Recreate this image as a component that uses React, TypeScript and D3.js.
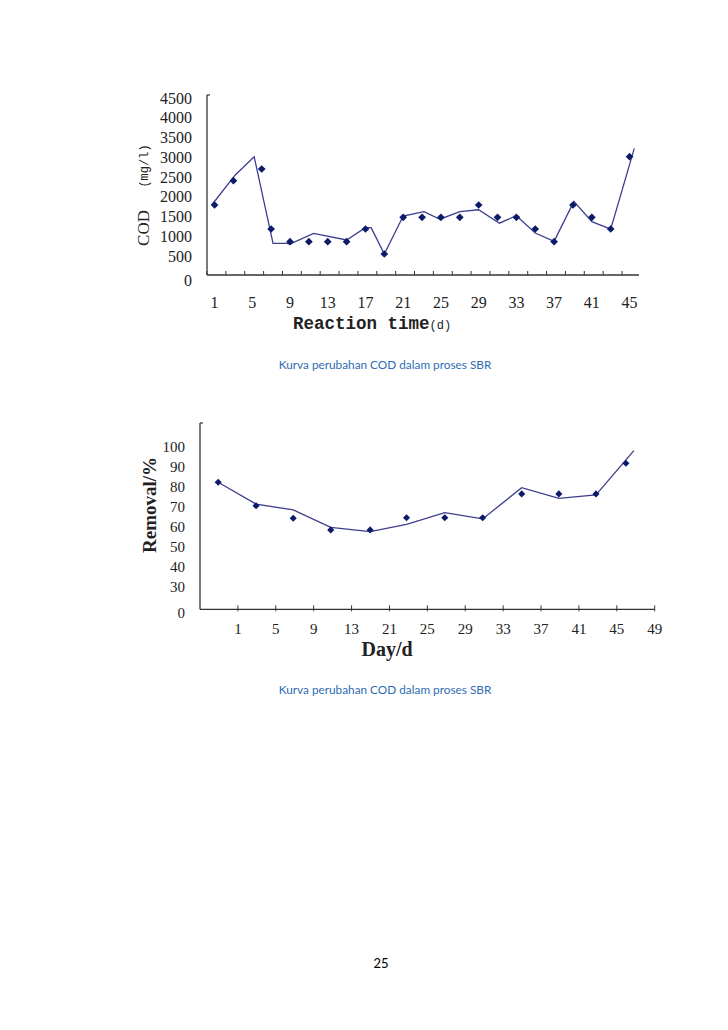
import React from "react";
import * as d3 from "d3";

// ---------- Chart 1: COD vs reaction time ----------
const codPointDays = [1, 3, 6, 7, 9, 11, 13, 15, 17, 19, 21, 23, 25, 27, 29, 31, 33, 35, 37, 39, 41, 43, 45];
const codPointValues = [1770, 2384, 2680, 1163, 843, 843, 843, 843, 1163, 531, 1459, 1459, 1459, 1459, 1770, 1459, 1459, 1163, 843, 1770, 1459, 1163, 2990];
const codLineDays = [0.7, 3.2, 5.2, 7.2, 8.7, 9.0, 11.5, 15.0, 17.0, 17.6, 19.0, 21.0, 23.2, 24.9, 27.0, 29.0, 31.2, 33.0, 35.0, 37.0, 39.1, 41.0, 43.0, 45.5];
const codLineValues = [1770, 2530, 2990, 801, 801, 780, 1054, 885, 1196, 1196, 531, 1490, 1600, 1410, 1600, 1650, 1310, 1500, 1060, 850, 1860, 1350, 1160, 3200];
const codYTicks = [0, 500, 1000, 1500, 2000, 2500, 3000, 3500, 4000, 4500];
const codXLabels = [1, 5, 9, 13, 17, 21, 25, 29, 33, 37, 41, 45];

// ---------- Chart 2: Removal % vs day ----------
const remPointPos = [0.48, 1.48, 2.46, 3.45, 4.49, 5.45, 6.46, 7.46, 8.49, 9.47, 10.45, 11.24];
const remPointValues = [82.2, 70.5, 64.2, 58.4, 58.4, 64.5, 64.5, 64.5, 76.4, 76.4, 76.4, 91.7];
const remLinePos = [0.48, 1.48, 2.46, 3.45, 4.49, 5.45, 6.46, 7.46, 8.49, 9.47, 10.45, 11.45];
const remLineValues = [82.2, 71.3, 68.4, 59.7, 57.5, 61.2, 67.0, 63.9, 79.5, 74.2, 75.9, 98.0];
const remYTicks = [30, 40, 50, 60, 70, 80, 90, 100];
const remXLabels = ["1", "5", "9", "13", "21", "25", "29", "33", "37", "41", "45", "49"];

const caption = "Kurva perubahan COD dalam proses SBR";
const pageNumber = "25";

const LINE = "#3d3d8f";
const MARK = "#0c1a6a";
const AXIS = "#333";
const TXT = "#222";

const diamondType = (d3 as any).symbolDiamond2 || d3.symbolDiamond;

function Chart1() {
  const x0 = 207, x1 = 639, yTop = 95, yBot = 275;
  const x = d3.scaleLinear().domain([0.2, 46]).range([x0, x1]);
  const y = d3.scaleLinear().domain([0, 4500]).range([yBot, 97]);
  const line = d3.line<number>().x((_, i) => x(codLineDays[i])).y((v) => y(v));
  const diamond = d3.symbol().type(diamondType).size(38)();
  const ticks = d3.range(0.2, 46.01, 2);
  return (
    <g>
      <line x1={x0} y1={yTop} x2={x0} y2={yBot} stroke={AXIS} strokeWidth={1.3} />
      <line x1={x0} y1={yTop} x2={x0 + 3} y2={yTop} stroke={AXIS} strokeWidth={1.2} />
      <line x1={x0} y1={yBot} x2={x1} y2={yBot} stroke={AXIS} strokeWidth={1.3} />
      {ticks.map((t, i) => (
        <line key={i} x1={x(t)} x2={x(t)} y1={yBot} y2={yBot - 4} stroke={AXIS} strokeWidth={1} />
      ))}
      {codYTicks.map((t) => (
        <text key={t} x={192} y={y(t) + (t === 0 ? 5 : 1)} dy="0.35em" textAnchor="end"
          fontFamily="Liberation Serif" fontSize={16} fill={TXT}>{t}</text>
      ))}
      {codXLabels.map((d) => (
        <text key={d} x={x(d)} y={302} dy="0.35em" textAnchor="middle"
          fontFamily="Liberation Serif" fontSize={16} fill={TXT}>{d}</text>
      ))}
      <path d={line(codLineValues) || ""} fill="none" stroke={LINE} strokeWidth={1.3} />
      {codPointValues.map((v, i) => (
        <path key={i} d={diamond || ""} transform={`translate(${x(codPointDays[i])},${y(v)})`} fill={MARK} />
      ))}
      <text transform="translate(149,228) rotate(-90)" textAnchor="middle"
        fontFamily="Liberation Serif" fontSize={17} fill={TXT}>COD</text>
      <text transform="translate(148,166) rotate(-90)" textAnchor="middle"
        fontFamily="Liberation Mono" fontSize={12} fill={TXT}>(mg/l)</text>
      <text x={293} y={329} fontFamily="Liberation Mono" fontWeight="bold" fontSize={17.5} fill={TXT}>
        Reaction time<tspan fontWeight="normal" fontSize={12}>(d)</tspan>
      </text>
    </g>
  );
}

function Chart2() {
  const x0 = 200, yTop = 423, yBot = 609.3;
  const x = d3.scaleLinear().domain([0, 12]).range([x0, 654.7]);
  const y = d3.scaleLinear().domain([30, 100]).range([586.7, 446.7]);
  const line = d3.line<number>().x((_, i) => x(remLinePos[i])).y((v) => y(v));
  const diamond = d3.symbol().type(diamondType).size(32)();
  const ticks = d3.range(1, 13);
  return (
    <g>
      <line x1={x0} y1={yTop} x2={x0} y2={yBot} stroke={AXIS} strokeWidth={1.3} />
      <line x1={x0} y1={yTop} x2={x0 + 3} y2={yTop} stroke={AXIS} strokeWidth={1.2} />
      <line x1={x0} y1={yBot} x2={x(12)} y2={yBot} stroke={AXIS} strokeWidth={1.3} />
      {ticks.map((t) => (
        <line key={t} x1={x(t)} x2={x(t)} y1={yBot + 2} y2={yBot - 4} stroke={AXIS} strokeWidth={1} />
      ))}
      {remYTicks.map((t) => (
        <text key={t} x={185} y={y(t)} dy="0.35em" textAnchor="end"
          fontFamily="Liberation Serif" fontSize={15} fill={TXT}>{t}</text>
      ))}
      <text x={185} y={yBot + 3} dy="0.35em" textAnchor="end"
        fontFamily="Liberation Serif" fontSize={15} fill={TXT}>0</text>
      {remXLabels.map((d, i) => (
        <text key={d} x={x(i + 1)} y={629} dy="0.35em" textAnchor="middle"
          fontFamily="Liberation Serif" fontSize={15} fill={TXT}>{d}</text>
      ))}
      <path d={line(remLineValues) || ""} fill="none" stroke={LINE} strokeWidth={1.3} />
      {remPointValues.map((v, i) => (
        <path key={i} d={diamond || ""} transform={`translate(${x(remPointPos[i])},${y(v)})`} fill={MARK} />
      ))}
      <text transform="translate(156,505) rotate(-90)" textAnchor="middle"
        fontFamily="Liberation Serif" fontWeight="bold" fontSize={19} fill={TXT}>Removal/%</text>
      <text x={387} y={656} textAnchor="middle"
        fontFamily="Liberation Serif" fontWeight="bold" fontSize={20} fill={TXT}>Day/d</text>
    </g>
  );
}

export default function App() {
  return (
    <svg width={728} height={1030} style={{ position: "absolute", left: 0, top: 0, background: "#fff" }}>
      <rect width={728} height={1030} fill="#fff" />
      <Chart1 />
      <text x={385} y={365} dy="0.35em" textAnchor="middle" fontFamily="Lato" fontSize={11.8} fill="#2e6db4">{caption}</text>
      <Chart2 />
      <text x={385} y={690} dy="0.35em" textAnchor="middle" fontFamily="Lato" fontSize={11.8} fill="#2e6db4">{caption}</text>
      <text x={381} y={963} dy="0.35em" textAnchor="middle" fontFamily="Lato" fontSize={13} fill="#000">{pageNumber}</text>
    </svg>
  );
}
